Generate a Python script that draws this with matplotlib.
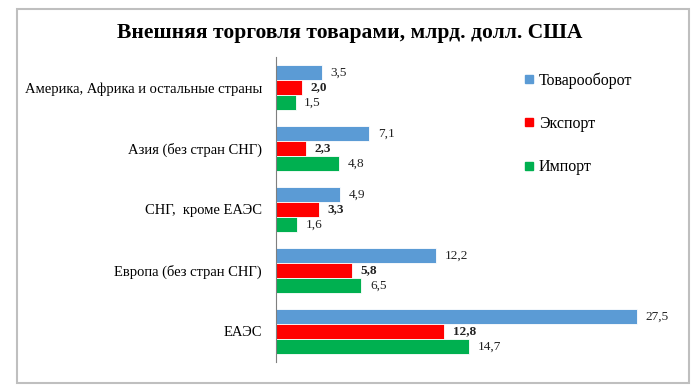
import numpy as np
import matplotlib
matplotlib.use('Agg')
import matplotlib.pyplot as plt
from matplotlib.lines import Line2D
from matplotlib.patches import Rectangle

plt.rcParams['font.family'] = ['Liberation Serif', 'DejaVu Serif']

# data, bottom to top as drawn
categories = ['ЕАЭС', 'Европа (без стран СНГ)', 'СНГ,  кроме ЕАЭС',
              'Азия (без стран СНГ)', 'Америка, Африка и остальные страны']
turnover = [27.5, 12.2, 4.9, 7.1, 3.5]
export = [12.8, 5.8, 3.3, 2.3, 2.0]
imports = [14.7, 6.5, 1.6, 4.8, 1.5]
series_names = ['Товарооборот', 'Экспорт', 'Импорт']
colors = ['#5B9BD5', '#FF0000', '#00B050']

fig = plt.figure(figsize=(7, 3.91), dpi=100)
ax = fig.add_axes([276 / 700, 1 - 362 / 391, 394 / 700, 305 / 391])

y = np.arange(len(categories))
h = 0.25
offsets = [h, 0, -h]
for vals, off, col, bold in zip([turnover, export, imports], offsets, colors,
                                [False, True, False]):
    bars = ax.barh(y + off, vals, height=h, color=col, edgecolor='white', linewidth=0.6)
    for b, v in zip(bars, vals):
        ax.text(b.get_width() + 0.65, b.get_y() + h / 2, f'{v:.1f}'.replace('.', ','),
                va='center', ha='left', fontsize=9.5,
                fontweight='bold' if bold else 'normal', color='#222222')

ax.set_xlim(0, 30)
ax.set_ylim(-0.5, len(categories) - 0.5)
ax.set_yticks(y)
ax.set_yticklabels(categories, fontsize=10.5)
ax.tick_params(axis='y', length=0, pad=10)
ax.xaxis.set_visible(False)
for s in ['top', 'right', 'bottom']:
    ax.spines[s].set_visible(False)
ax.spines['left'].set_color('#7f7f7f')
ax.spines['left'].set_linewidth(0.8)
ax.patch.set_alpha(0)

fig.text(0.5, 1 - 33 / 391, 'Внешняя торговля товарами, млрд. долл. США',
         ha='center', va='center', fontsize=15.5, fontweight='bold')

handles = [Line2D([], [], marker='s', linestyle='none', markersize=6,
                  markerfacecolor=c, markeredgecolor=c) for c in colors]
fig.legend(handles, series_names, loc='upper left', bbox_to_anchor=(515 / 700, 1 - 66 / 391),
           frameon=False, fontsize=11.5, labelspacing=1.7, handletextpad=0.1,
           handlelength=1.0, borderaxespad=0)

fig.patches.append(Rectangle((17 / 700, 1 - 383 / 391), 672 / 700, 374 / 391,
                             transform=fig.transFigure, fill=False,
                             edgecolor='#bfbfbf', linewidth=1.5))

fig.savefig('out.png', dpi=100)
